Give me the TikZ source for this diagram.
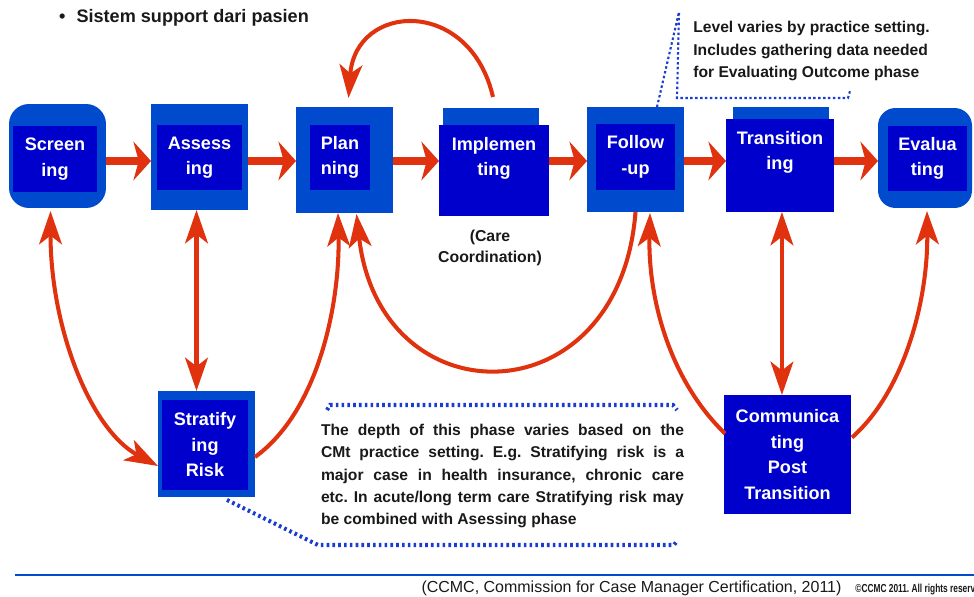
\documentclass[tikz,border=0pt]{standalone}
\usepackage{fontspec}
\setmainfont{Liberation Sans}
\usetikzlibrary{arrows.meta,calc}
\frenchspacing

\definecolor{midblue}{RGB}{0,75,205}
\definecolor{coreblue}{RGB}{0,0,205}
\definecolor{arrowred}{RGB}{225,50,15}
\definecolor{dotblue}{RGB}{25,60,210}
\definecolor{inkgray}{RGB}{25,25,25}

\newcommand{\boxfont}{\bfseries\fontsize{10.3}{14.5}\selectfont}
\newcommand{\notefont}{\bfseries\fontsize{8.9}{12.8}\selectfont}

\tikzset{
  phase/.style={fill=midblue, inner sep=0pt, outer sep=0pt},
  core/.style={fill=coreblue, text=white, font=\boxfont, align=center, inner sep=0pt, outer sep=0pt},
  label/.style={text=white, font=\boxfont, align=center, inner sep=0pt},
  flow/.style={draw=arrowred, line width=4pt, -{Stealth[length=10pt,width=22pt,inset=3pt]}},
  curve/.style={draw=arrowred, line width=2.3pt, -{Stealth[length=19pt,width=13pt,inset=5pt]}},
  twoway/.style={draw=arrowred, line width=2.3pt, {Stealth[length=19pt,width=13pt,inset=5pt]}-{Stealth[length=19pt,width=13pt,inset=5pt]}},
  callout/.style={draw=dotblue, line width=1.2pt, dash pattern=on 1.4pt off 1.4pt},
  bigdots/.style={draw=dotblue, line width=2.3pt, dash pattern=on 1.5pt off 1.8pt},
}

\begin{document}
\begin{tikzpicture}[x=0.02cm, y=-0.02cm]
      \useasboundingbox (0,0) rectangle (974,597);

      %titre
      \node (title) [anchor=west, text=inkgray, font=\bfseries\fontsize{10.3}{12}\selectfont] at (53,18) {\textbullet\hspace{0.22cm}Sistem support dari pasien};

      %phases du haut
      \node (scr) [phase, rounded corners=0.4cm, minimum width=1.94cm, minimum height=2.08cm] at (57.5,156) {};
      \node (scr-in) [core, minimum width=1.68cm, minimum height=1.32cm] at (55,159) {Screen\\ing};
      \node (ass) [phase, minimum width=1.94cm, minimum height=2.12cm] at (199.5,157) {};
      \node (ass-in) [core, minimum width=1.70cm, minimum height=1.30cm] at (199.5,157.5) {Assess\\ing};
      \node (plan) [phase, minimum width=1.94cm, minimum height=2.12cm] at (344.5,160) {};
      \node (plan-in) [core, minimum width=1.20cm, minimum height=1.30cm] at (340,157.5) {Plan\\ning};
      \node (impltab) [phase, minimum width=1.92cm, minimum height=0.34cm] at (491,116.5) {};
      \node (impl) [core, minimum width=2.20cm, minimum height=1.82cm] at (494,170.5) {};
      \node (impl-t) [label] at (494,158.5) {Implemen\\ting};
      \node (care) [text=inkgray, font=\bfseries\fontsize{9}{12}\selectfont, align=center, inner sep=0pt] at (490,247.5) {(Care\\Coordination)};
      \node (fol) [phase, minimum width=1.94cm, minimum height=2.10cm] at (635.5,159.5) {};
      \node (fol-in) [core, minimum width=1.58cm, minimum height=1.32cm] at (635.5,157) {Follow\\-up};
      \node (transtab) [phase, minimum width=1.92cm, minimum height=0.24cm] at (781,113) {};
      \node (trans) [core, minimum width=2.16cm, minimum height=1.86cm] at (780,165.5) {};
      \node (trans-t) [label] at (780,152.5) {Transition\\ing};
      \node (eva) [phase, rounded corners=0.35cm, minimum width=1.88cm, minimum height=2.0cm] at (925,158) {};
      \node (eva-in) [core, minimum width=1.58cm, minimum height=1.30cm] at (927.5,158.5) {Evalua\\ting};

      %phases du bas
      \node (strat) [phase, minimum width=1.94cm, minimum height=2.12cm] at (206.5,444) {};
      \node (strat-in) [core, minimum width=1.72cm, minimum height=1.80cm] at (205,445) {Stratify\\ing\\Risk};
      \node (comm) [core, minimum width=2.54cm, minimum height=2.38cm] at (787.5,454.5) {Communica\\ting\\Post\\Transition};

      %fleches horizontales
      \coordinate (row) at (0,161);
      \draw[flow] (scr.east |- row) -- (ass.west |- row);
      \draw[flow] (ass.east |- row) -- (plan.west |- row);
      \draw[flow] (plan.east |- row) -- (impl.west |- row);
      \draw[flow] (impl.east |- row) -- (fol.west |- row);
      \draw[flow] (fol.east |- row) -- (trans.west |- row);
      \draw[flow] (trans.east |- row) -- (eva.west |- row);

      %boucles
      \draw[curve] ($(impltab.north)+(2,-11)$) .. controls +(-23,-100) and +(7,-96) .. ($(plan.north)+(4,-9)$);
      \draw[twoway] ($(scr.south)+(-7,3)$) .. controls +(0,118) and +(-67,-36) .. ($(strat.west)+(0,22)$);
      \draw[twoway] ([xshift=-1.7pt]ass.south) -- ([xshift=-1.7pt]ass.south |- strat.north);
      \draw[curve] ($(strat.east)+(0,13)$) .. controls +(65,-47) and +(2,87) .. ($(plan.south)+(-6.5,0)$);
      \draw[curve] (fol.south) .. controls +(-16,208) and +(23,207) .. ($(plan.south)+(12,1)$);
      \draw[curve] ($(comm.west)+(1,-21)$) .. controls +(-55,-53) and +(-2,86) .. ($(fol.south)+(14.5,1)$);
      \draw[twoway] ([xshift=1.1pt]trans.south) -- ([xshift=1.1pt]trans.south |- comm.north);
      \draw[curve] ($(comm.east)+(1,-17)$) .. controls +(53,-47) and +(1,88) .. ($(eva.south)+(2,3)$);

      %note du haut
      \node (topnote) [anchor=west, text=inkgray, font=\notefont, align=left, inner sep=0pt] at (693,51) {Level varies by practice setting.\\Includes gathering data needed\\for Evaluating Outcome phase};
      \draw[callout] ($(fol.north)+(21.5,0)$) -- (679,12) -- (677,98) -- (848,98) -- (850,91);

      %note du bas
      \node (lownote) [text=inkgray, font=\notefont, align=justify, text width=7.26cm, inner sep=0pt] at (502.5,476) {The depth of this phase varies based on the\linebreak CMt practice setting. E.g. Stratifying risk is a\linebreak major case in health insurance, chronic care\linebreak etc. In acute/long term care Stratifying risk may\linebreak be combined with Asessing phase};
      \draw[bigdots] (327,410) -- (330,405) -- (673,405) -- (677,410);
      \draw[bigdots] ($(strat.south east)+(-28,3)$) -- (318,545) -- (674,545) -- (677,541);

      %pied de page
      \draw[midblue, line width=1.7pt] (15,575) -- (974,575);
      \node (cite) [text=inkgray, font=\fontsize{9.1}{11}\selectfont, inner sep=0pt] at (631.5,588) {(CCMC, Commission for Case Manager Certification, 2011)};
      \node (copy) [anchor=west, text=inkgray, inner sep=0pt] at (855,590) {\scalebox{0.72}[1]{\bfseries\fontsize{6.6}{7}\selectfont \textcopyright CCMC 2011. All rights reserv}};
\end{tikzpicture}
\end{document}
